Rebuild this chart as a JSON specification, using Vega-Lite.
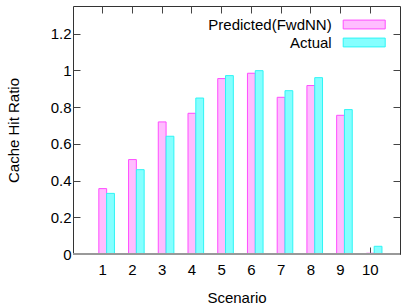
{
  "$schema": "https://vega.github.io/schema/vega-lite/v6.json",
  "width": 327,
  "height": 248,
  "autosize": {"type": "none"},
  "padding": {"left": 73, "top": 6, "right": 1, "bottom": 52},
  "background": "white",
  "config": {
    "font": "Liberation Sans",
    "view": {"stroke": "#333", "strokeWidth": 1},
    "axis": {
      "labelFont": "Liberation Sans",
      "titleFont": "Liberation Sans",
      "labelFontSize": 15,
      "titleFontSize": 15,
      "titleFontWeight": "normal",
      "labelColor": "#000",
      "titleColor": "#000",
      "tickColor": "#444",
      "tickSize": -7,
      "grid": false,
      "domain": false
    }
  },
  "data": {
    "values": [
      {"scenario": 1, "series": "Predicted(FwdNN)", "value": 0.356},
      {"scenario": 1, "series": "Actual", "value": 0.330},
      {"scenario": 2, "series": "Predicted(FwdNN)", "value": 0.514},
      {"scenario": 2, "series": "Actual", "value": 0.459},
      {"scenario": 3, "series": "Predicted(FwdNN)", "value": 0.719},
      {"scenario": 3, "series": "Actual", "value": 0.641},
      {"scenario": 4, "series": "Predicted(FwdNN)", "value": 0.766},
      {"scenario": 4, "series": "Actual", "value": 0.849},
      {"scenario": 5, "series": "Predicted(FwdNN)", "value": 0.955},
      {"scenario": 5, "series": "Actual", "value": 0.971},
      {"scenario": 6, "series": "Predicted(FwdNN)", "value": 0.984},
      {"scenario": 6, "series": "Actual", "value": 0.998},
      {"scenario": 7, "series": "Predicted(FwdNN)", "value": 0.853},
      {"scenario": 7, "series": "Actual", "value": 0.889},
      {"scenario": 8, "series": "Predicted(FwdNN)", "value": 0.917},
      {"scenario": 8, "series": "Actual", "value": 0.960},
      {"scenario": 9, "series": "Predicted(FwdNN)", "value": 0.755},
      {"scenario": 9, "series": "Actual", "value": 0.786},
      {"scenario": 10, "series": "Predicted(FwdNN)", "value": 0.004},
      {"scenario": 10, "series": "Actual", "value": 0.042}
    ]
  },
  "layer": [
    {
      "mark": {"type": "bar", "strokeWidth": 1},
      "encoding": {
        "x": {
          "field": "scenario",
          "type": "ordinal",
          "scale": {"paddingInner": 0, "paddingOuter": 0.5},
          "axis": {
            "orient": "bottom",
            "title": "Scenario",
            "labelAngle": 0,
            "labelPadding": 15,
            "titlePadding": 13,
            "zindex": 0
          }
        },
        "xOffset": {
          "field": "series",
          "type": "nominal",
          "scale": {"domain": ["_", "Predicted(FwdNN)", "Actual"], "paddingInner": 0, "paddingOuter": 0.405}
        },
        "y": {
          "field": "value",
          "type": "quantitative",
          "scale": {"domain": [0, 1.35], "nice": false, "zero": true},
          "axis": {
            "orient": "left",
            "title": "Cache Hit Ratio",
            "values": [0, 0.2, 0.4, 0.6, 0.8, 1, 1.2],
            "format": "~g",
            "labelPadding": 9,
            "titlePadding": 29
          }
        },
        "fill": {
          "field": "series",
          "type": "nominal",
          "scale": {"domain": ["Predicted(FwdNN)", "Actual"], "range": ["#ffbdff", "#85ffff"]},
          "legend": {
            "orient": "none",
            "legendX": 283.7,
            "legendY": 11,
            "title": null,
            "padding": 0,
            "labelAlign": "right",
            "labelOffset": -40,
            "labelFontSize": 15,
            "labelFont": "Liberation Sans",
            "labelColor": "#000",
            "symbolType": "M-5,-1.05H5V1.05H-5Z",
            "symbolSize": 70.6,
            "symbolStrokeWidth": 1,
            "rowPadding": 2
          }
        },
        "stroke": {
          "field": "series",
          "type": "nominal",
          "scale": {"domain": ["Predicted(FwdNN)", "Actual"], "range": ["#ff4dff", "#2ef5f5"]},
          "legend": {
            "orient": "none",
            "legendX": 283.7,
            "legendY": 11,
            "title": null,
            "padding": 0,
            "labelAlign": "right",
            "labelOffset": -40,
            "labelFontSize": 15,
            "labelFont": "Liberation Sans",
            "labelColor": "#000",
            "symbolType": "M-5,-1.05H5V1.05H-5Z",
            "symbolSize": 70.6,
            "symbolStrokeWidth": 1,
            "rowPadding": 2
          }
        }
      }
    },
    {
      "mark": {"type": "rule", "color": "#999", "strokeWidth": 2},
      "encoding": {"y": {"datum": 0, "axis": null}}
    },
    {
      "mark": {"type": "point", "opacity": 0},
      "encoding": {
        "x": {
          "field": "scenario",
          "type": "ordinal",
          "axis": {"orient": "top", "labels": false, "title": null}
        },
        "y": {
          "field": "value",
          "type": "quantitative",
          "axis": {"orient": "right", "labels": false, "title": null, "values": [0, 0.2, 0.4, 0.6, 0.8, 1, 1.2]}
        }
      }
    }
  ],
  "resolve": {"axis": {"x": "independent", "y": "independent"}}
}
